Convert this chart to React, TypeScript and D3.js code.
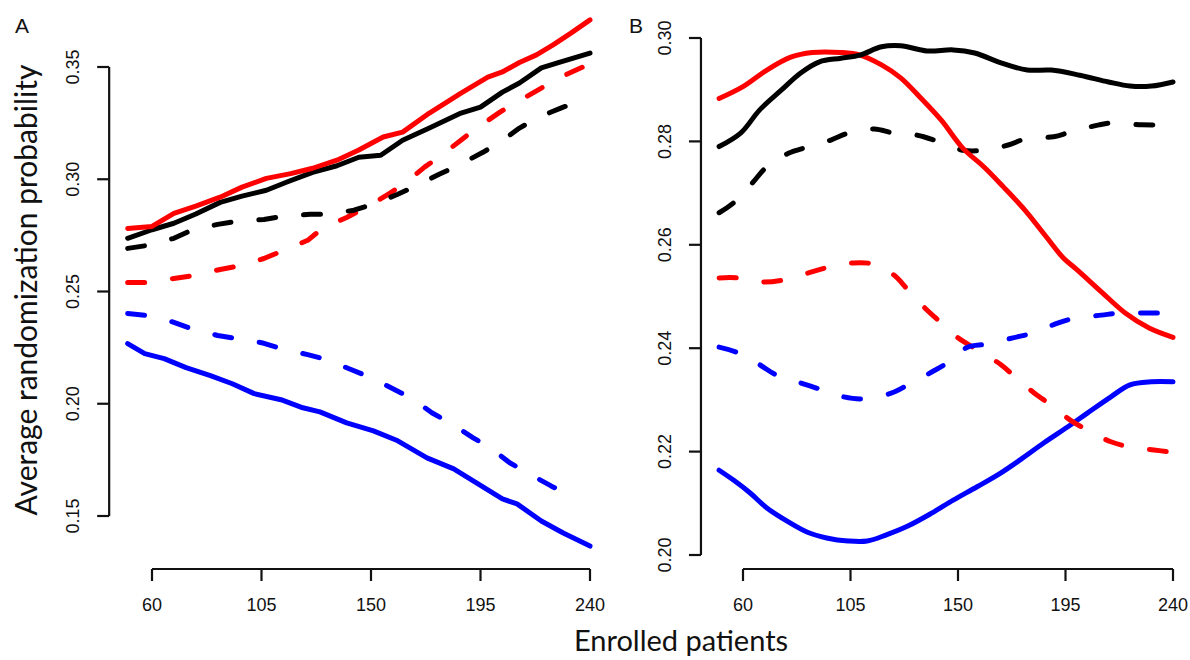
import React from "react";
import * as d3 from "d3";

// ---- Data (x = enrolled patients, y = average randomization probability) ----
const xTicks = [60, 105, 150, 195, 240];
const yTicksA = [0.15, 0.2, 0.25, 0.3, 0.35];
const yTicksB = [0.2, 0.22, 0.24, 0.26, 0.28, 0.3];

type P = [number, number];

// Panel A
const aRedSolid: P[] = [
  [50, 0.2781], [60, 0.279], [69, 0.2848], [78, 0.288], [88, 0.292], [97, 0.2965], [107, 0.3004],
  [117, 0.3025], [126, 0.3049], [136, 0.3085], [145, 0.313], [155, 0.3188], [163, 0.321],
  [174, 0.3295], [187, 0.3384], [198, 0.3455], [204, 0.3478], [211, 0.352], [218, 0.3554],
  [225, 0.36], [232, 0.365], [240, 0.371],
];
const aBlackSolid: P[] = [
  [50, 0.2737], [60, 0.2775], [69, 0.2804], [78, 0.2845], [88, 0.2897], [97, 0.2925], [107, 0.2951],
  [116, 0.299], [126, 0.3031], [136, 0.306], [145, 0.3098], [154, 0.3107], [163, 0.3174],
  [174, 0.3228], [187, 0.3295], [195, 0.3321], [204, 0.3388], [211, 0.3429], [220, 0.3496],
  [227, 0.352], [240, 0.3562],
];
const aBlackDashed: P[] = [
  [50, 0.2692], [58, 0.2705], [69, 0.2737], [76, 0.2772], [87, 0.2799], [95, 0.2813],
  [106, 0.2821], [114, 0.2835], [125, 0.2844], [132, 0.2844], [143, 0.2862], [152, 0.2893],
  [161, 0.2933], [169, 0.2973], [178, 0.3022], [186, 0.3063], [196, 0.312], [203, 0.3165],
  [211, 0.3228], [219, 0.3277], [229, 0.3321], [237, 0.3353], [240, 0.336],
];
const aRedDashed: P[] = [
  [50, 0.254], [58, 0.254], [69, 0.2558], [77, 0.2571], [88, 0.2598], [95, 0.2612],
  [106, 0.2647], [114, 0.2683], [124, 0.2728], [130, 0.2781], [140, 0.283], [151, 0.2893],
  [157, 0.2933], [164, 0.2982], [172, 0.3054], [179, 0.3107], [188, 0.3183], [194, 0.3232],
  [203, 0.3299], [210, 0.3344], [220, 0.3406], [227, 0.345], [237, 0.35], [240, 0.3515],
];
const aBlueSolid: P[] = [
  [50, 0.2268], [57, 0.2223], [65, 0.2201], [74, 0.2161], [84, 0.2125], [93, 0.2089],
  [102, 0.2045], [113, 0.2018], [122, 0.1982], [129, 0.1964], [140, 0.1915], [151, 0.1879],
  [161, 0.1835], [173, 0.1759], [184, 0.171], [192, 0.1656], [204, 0.1576], [210, 0.1554],
  [220, 0.1478], [229, 0.1424], [240, 0.1366],
];
const aBlueDashed: P[] = [
  [50, 0.2402], [58, 0.2393], [68, 0.2366], [76, 0.2335], [87, 0.2304], [95, 0.229],
  [105, 0.2272], [113, 0.2246], [124, 0.2219], [132, 0.2196], [141, 0.2156], [150, 0.2116],
  [159, 0.2067], [167, 0.2022], [175, 0.196], [183, 0.1911], [192, 0.1848], [199, 0.1804],
  [207, 0.1737], [215, 0.1688], [224, 0.1634], [233, 0.1585],
];

// Panel B
const bRedSolid: P[] = [
  [50, 0.2883], [60, 0.2906], [70, 0.2938], [80, 0.2963], [89, 0.2972], [101, 0.2972],
  [109, 0.2967], [118, 0.2948], [126, 0.2923], [134, 0.2886], [143, 0.2841], [152, 0.2787],
  [161, 0.275], [169, 0.2712], [178, 0.2667], [187, 0.2615], [194, 0.2575], [200, 0.2551],
  [210, 0.2509], [220, 0.2468], [230, 0.2439], [240, 0.2421],
];
const bBlackSolid: P[] = [
  [50, 0.279], [59, 0.2816], [67, 0.2861], [76, 0.2899], [84, 0.2932], [92, 0.2954],
  [101, 0.2961], [109, 0.2967], [118, 0.2983], [126, 0.2985], [137, 0.2975], [148, 0.2977],
  [157, 0.2971], [168, 0.2952], [179, 0.2938], [189, 0.2938], [201, 0.2928], [213, 0.2915],
  [222, 0.2907], [231, 0.2907], [240, 0.2915],
];
const bBlackDashed: P[] = [
  [50, 0.2662], [56, 0.2681], [64, 0.272], [70, 0.2751], [79, 0.2777], [87, 0.2789],
  [97, 0.2803], [104, 0.2816], [115, 0.2824], [123, 0.2816], [133, 0.2812], [141, 0.2801],
  [152, 0.2783], [161, 0.2783], [171, 0.2793], [179, 0.2806], [190, 0.2809], [197, 0.2818],
  [209, 0.2832], [215, 0.2836], [227, 0.2832], [240, 0.2832],
];
const bRedDashed: P[] = [
  [50, 0.2536], [58, 0.2536], [68, 0.2528], [77, 0.2532], [87, 0.2545], [96, 0.2557],
  [106, 0.2565], [114, 0.2563], [123, 0.2542], [129, 0.2513], [137, 0.2474], [143, 0.2449],
  [150, 0.242], [158, 0.2397], [168, 0.2368], [174, 0.2344], [182, 0.2313], [189, 0.229],
  [197, 0.2261], [204, 0.2242], [214, 0.2219], [222, 0.2209], [232, 0.2203], [240, 0.2199],
];
const bBlueDashed: P[] = [
  [50, 0.2402], [58, 0.2391], [67, 0.2368], [74, 0.2348], [84, 0.2333], [92, 0.2321],
  [102, 0.2306], [110, 0.2302], [122, 0.2313], [129, 0.2329], [139, 0.2354], [146, 0.2373],
  [154, 0.2402], [162, 0.2408], [173, 0.242], [181, 0.2429], [192, 0.2449], [199, 0.2458],
  [210, 0.2464], [218, 0.2468], [230, 0.2468], [240, 0.2468],
];
const bBlueSolid: P[] = [
  [50, 0.2164], [56, 0.2145], [63, 0.212], [70, 0.2091], [79, 0.2064], [87, 0.2044],
  [95, 0.2033], [104, 0.2027], [112, 0.2027], [120, 0.2039], [129, 0.2056], [139, 0.2081],
  [148, 0.2106], [158, 0.2132], [168, 0.2159], [176, 0.2184], [186, 0.2217], [196, 0.2248],
  [204, 0.2274], [214, 0.2306], [222, 0.2329], [231, 0.2335], [240, 0.2335],
];

const RED = "#ff0000";
const BLUE = "#0000ff";
const BLACK = "#000000";

type Series = { data: P[]; color: string; dashed: boolean };

const seriesA: Series[] = [
  { data: aBlueDashed, color: BLUE, dashed: true },
  { data: aBlueSolid, color: BLUE, dashed: false },
  { data: aRedDashed, color: RED, dashed: true },
  { data: aBlackDashed, color: BLACK, dashed: true },
  { data: aBlackSolid, color: BLACK, dashed: false },
  { data: aRedSolid, color: RED, dashed: false },
];
const seriesB: Series[] = [
  { data: bBlueSolid, color: BLUE, dashed: false },
  { data: bRedDashed, color: RED, dashed: true },
  { data: bBlueDashed, color: BLUE, dashed: true },
  { data: bBlackDashed, color: BLACK, dashed: true },
  { data: bRedSolid, color: RED, dashed: false },
  { data: bBlackSolid, color: BLACK, dashed: false },
];

const AXIS_Y = 569;
const TICK_FONT = "'Liberation Sans', Arial, Helvetica, sans-serif";
const TITLE_FONT = "Lato, 'Open Sans', sans-serif";

function Panel({
  x,
  y,
  series,
  yTicks,
  label,
  labelX,
  curve,
}: {
  x: d3.ScaleLinear<number, number>;
  y: d3.ScaleLinear<number, number>;
  series: Series[];
  yTicks: number[];
  label: string;
  labelX: number;
  curve: d3.CurveFactory;
}) {
  const yAxisX = x(42.4);
  const line = d3
    .line<P>()
    .x((d) => x(d[0]))
    .y((d) => y(d[1]))
    .curve(curve);
  const y0 = y(yTicks[0]);
  const y1 = y(yTicks[yTicks.length - 1]);
  return (
    <g>
      <text x={labelX} y={33} fontFamily={TICK_FONT} fontSize={21} fill="#111">
        {label}
      </text>
      {/* y axis */}
      <line x1={yAxisX} x2={yAxisX} y1={y0} y2={y1} stroke="#111" strokeWidth={2.2} />
      {yTicks.map((t) => (
        <g key={t}>
          <line x1={yAxisX - 12} x2={yAxisX} y1={y(t)} y2={y(t)} stroke="#111" strokeWidth={2.2} />
          <text
            transform={`translate(${yAxisX - 36},${y(t)}) rotate(-90)`}
            textAnchor="middle"
            dominantBaseline="central"
            fontFamily={TICK_FONT}
            fontSize={18}
            fill="#111"
          >
            {t.toFixed(2)}
          </text>
        </g>
      ))}
      {/* x axis */}
      <line
        x1={x(xTicks[0])}
        x2={x(xTicks[xTicks.length - 1])}
        y1={AXIS_Y}
        y2={AXIS_Y}
        stroke="#111"
        strokeWidth={2.2}
      />
      {xTicks.map((t) => (
        <g key={t}>
          <line x1={x(t)} x2={x(t)} y1={AXIS_Y} y2={AXIS_Y + 12} stroke="#111" strokeWidth={2.2} />
          <text
            x={x(t)}
            y={AXIS_Y + 36}
            textAnchor="middle"
            dominantBaseline="central"
            fontFamily={TICK_FONT}
            fontSize={18}
            fill="#111"
          >
            {t}
          </text>
        </g>
      ))}
      {series.map((s, i) => (
        <path
          key={i}
          d={line(s.data) || ""}
          fill="none"
          stroke={s.color}
          strokeWidth={5}
          strokeLinecap="round"
          strokeLinejoin="round"
          strokeDasharray={s.dashed ? "17 28" : undefined}
        />
      ))}
    </g>
  );
}

export default function App() {
  const xA = d3.scaleLinear().domain([60, 240]).range([152, 590]);
  const yA = d3.scaleLinear().domain([0.15, 0.35]).range([516, 67]);
  const xB = d3.scaleLinear().domain([60, 240]).range([743, 1173]);
  const yB = d3.scaleLinear().domain([0.2, 0.3]).range([555, 38]);
  return (
    <svg
      width={1190}
      height={660}
      style={{ position: "absolute", left: 0, top: 0, background: "#fff" }}
    >
      <rect width={1190} height={660} fill="#fff" />
      <Panel x={xA} y={yA} series={seriesA} yTicks={yTicksA} label="A" labelX={15} curve={d3.curveLinear} />
      <Panel x={xB} y={yB} series={seriesB} yTicks={yTicksB} label="B" labelX={629} curve={d3.curveCatmullRom} />
      <text
        transform="translate(37,290) rotate(-90)"
        textAnchor="middle"
        fontFamily={TITLE_FONT}
        fontSize={30}
        fill="#111"
      >
        Average randomization probability
      </text>
      <text
        x={681}
        y={651}
        textAnchor="middle"
        fontFamily={TITLE_FONT}
        fontSize={29}
        fill="#111"
      >
        Enrolled patients
      </text>
    </svg>
  );
}
